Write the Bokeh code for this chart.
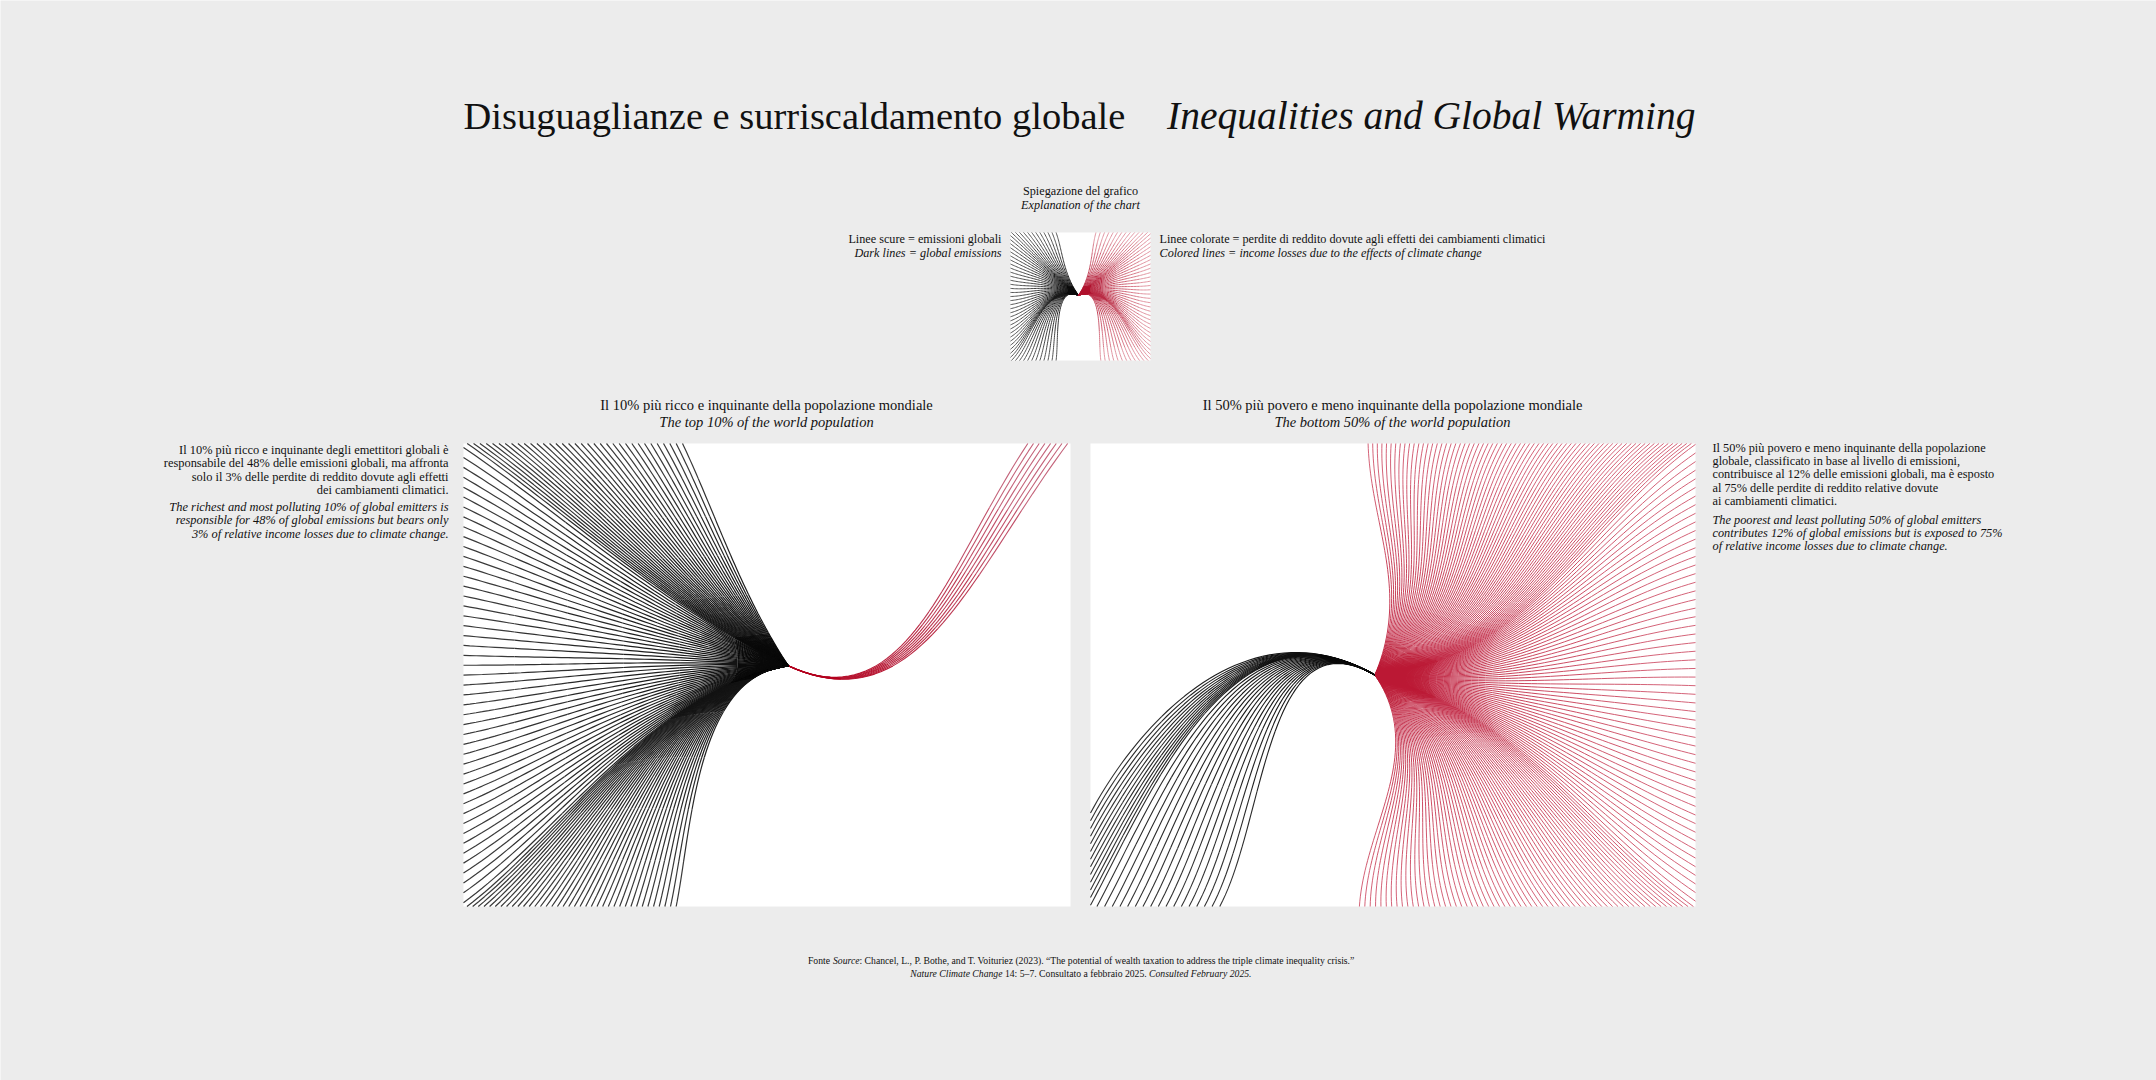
import numpy as np
from bokeh.plotting import figure
from bokeh.models import Range1d, ColumnDataSource, Label
from bokeh.embed import file_html
from bokeh.resources import INLINE

# shares in percent, from the notes beside the panels
groups = ["top 10%", "bottom 50%"]
emissions_share = [48, 12]
losses_share = [3, 75]
lines_per_point = 2.5
explain_lines = [55, 55]   # dark / coloured lines in the key

BG = "#ececec"
INK = "#111111"
SERIF = "Liberation Serif"
PW, PH = 2156, 1080


def Y(y):
    # page y (top-down) -> figure y
    return PH - y


p = figure(width=PW, height=PH, x_range=Range1d(0, PW), y_range=Range1d(0, PH),
           output_backend="svg", toolbar_location=None, tools="", min_border=0)
p.axis.visible = False
p.grid.visible = False
p.outline_line_color = None
p.background_fill_color = BG
p.border_fill_color = BG


def label(x, y, text, size, style="normal", align="left"):
    p.add_layout(Label(x=x, y=Y(y), text=text, text_font=SERIF,
                       text_font_size=f"{size}px", text_font_style=style,
                       text_align=align, text_baseline="alphabetic", text_color=INK))


def unit(v):
    v = np.asarray(v, float)
    return v / np.hypot(v[0], v[1])


def mix(c0, c1, f):
    a = [int(c0[i:i + 2], 16) for i in (1, 3, 5)]
    b = [int(c1[i:i + 2], 16) for i in (1, 3, 5)]
    return "#%02x%02x%02x" % tuple(int(round(a[k] + (b[k] - a[k]) * f)) for k in range(3))


def edge_points(path, n, density=None):
    # n end points along the edges; density > 1 packs an edge tighter
    density = density or {}
    lens = [np.hypot(b[0] - a[0], b[1] - a[1]) * density.get(e, 1) for a, b, e in path]
    total = sum(lens)
    pts = []
    for i in range(n):
        u = (i + 0.5) / n
        s = u * total
        for j, ((a, b, e), L) in enumerate(zip(path, lens)):
            if s <= L or j == len(path) - 1:
                f = min(s / L, 1.0)
                pts.append(((a[0] + (b[0] - a[0]) * f, a[1] + (b[1] - a[1]) * f), u))
                break
            s -= L
    return pts


def fan(center, ends, flow, a1, a2, w1k, w2k, vec, c0, c1, segs=6, steps=48):
    xs, ys, cols = [], [], []
    C = np.array(center, float)
    t = np.linspace(0, 1, steps)[:, None]
    for E, u in ends:
        E = np.array(E, float)
        d = np.hypot(*(E - C))
        r_out = unit(E - C)
        w1 = np.interp(u, *w1k)
        w2 = np.interp(u, *w2k)
        P1 = C + a1 * d * unit((1 - w1) * r_out + w1 * unit(flow))
        P2 = E + a2 * d * unit((1 - w2) * (-r_out) + w2 * unit(vec))
        B = (1 - t) ** 3 * C + 3 * (1 - t) ** 2 * t * P1 + 3 * (1 - t) * t ** 2 * P2 + t ** 3 * E
        idx = np.linspace(0, steps - 1, segs + 1).astype(int)
        for k in range(segs):
            seg = B[idx[k]:idx[k + 1] + 1]
            xs.append(seg[:, 0].tolist())
            ys.append(seg[:, 1].tolist())
            cols.append(mix(c0, c1, k / (segs - 1)))
    return dict(xs=xs, ys=ys, color=cols)


def panel(box, fans):
    x0, t0, x1, b0 = box
    W, H = x1 - x0, b0 - t0
    p.quad(left=x0, right=x1, top=Y(t0), bottom=Y(b0), fill_color="white", line_color=None)
    xy = p.subplot(x_source=Range1d(0, W), y_source=Range1d(0, H),
                   x_target=Range1d(x0, x1), y_target=Range1d(Y(b0), Y(t0)))
    for f, width in fans:
        xy.multi_line(xs="xs", ys="ys", line_color="color", line_width=width,
                      source=ColumnDataSource(f(W, H)))


n_lb = int(round(emissions_share[0] * lines_per_point))
n_lr = int(round(losses_share[0] * lines_per_point))
n_rb = int(round(emissions_share[1] * lines_per_point))
n_rr = int(round(losses_share[1] * lines_per_point))


# ---- left panel: top 10%
def left_black(W, H):
    path = [((0.366 * W, H), (0, H), "top"), ((0, H), (0, 0), "left"), ((0, 0), (0.355 * W, 0), "bottom")]
    dens = {"top": 1.25, "left": 0.8, "bottom": 1.4}
    return fan((0.535 * W, 0.52 * H), edge_points(path, n_lb, dens), (-1, 0.12), 0.35, 0.3,
               ([0, 1], [0.15, 0.8]), ([0, 0.68, 1], [0, 0, 0.55]), (0, 1), "#0a0a0a", "#3a3a3a")


def left_red(W, H):
    path = [((0.925 * W, H), (W, H), "top")]
    return fan((0.535 * W, 0.52 * H), edge_points(path, n_lr), (0.906, -0.423), 0.4, 0.45,
               ([0, 1], [1, 1]), ([0, 1], [0.3, 0.3]), (0, -1), "#b3001e", "#c4637a")


# ---- right panel: bottom 50%
def right_black(W, H):
    path = [((0, 0.21 * H), (0, 0), "left"), ((0, 0), (0.22 * W, 0), "bottom")]
    return fan((0.47 * W, 0.5 * H), edge_points(path, n_rb), (-0.866, 0.5), 0.45, 0.35,
               ([0, 1], [1, 1]), ([0, 1], [1, 1]), (0.47, 0.88), "#0a0a0a", "#333333")


def right_red(W, H):
    path = [((0.455 * W, H), (W, H), "top"), ((W, H), (W, 0), "right"), ((W, 0), (0.44 * W, 0), "bottom")]
    dens = {"top": 1.4, "right": 0.75, "bottom": 1.2}
    return fan((0.47 * W, 0.5 * H), edge_points(path, n_rr, dens), (1, -0.12), 0.4, 0.35,
               ([0, 0.3, 0.5, 0.75, 1], [0.3, 0.65, 0.8, 0.65, 0.45]), ([0, 1], [0, 0]), (1, 0),
               "#bb1834", "#cf5169")


# ---- key
def key_black(W, H):
    path = [((0.34 * W, H), (0, H), "top"), ((0, H), (0, 0), "left"), ((0, 0), (0.34 * W, 0), "bottom")]
    return fan((0.486 * W, 0.51 * H), edge_points(path, explain_lines[0]), (-0.82, 0.57), 0.4, 0.3,
               ([0, 1], [0.45, 0.85]), ([0, 0.79, 1], [0, 0, 0.6]), (0, 1), "#0a0a0a", "#555555")


def key_red(W, H):
    path = [((0.595 * W, H), (W, H), "top"), ((W, H), (W, 0), "right"), ((W, 0), (0.63 * W, 0), "bottom")]
    return fan((0.486 * W, 0.51 * H), edge_points(path, explain_lines[1]), (0.82, 0.57), 0.4, 0.3,
               ([0, 1], [0.45, 0.85]), ([0, 0.78, 1], [0, 0, 0.6]), (0, 1), "#b0102c", "#e296a2")


panel((463, 443, 1070, 906), [(left_red, 1.1), (left_black, 1.2)])
panel((1090, 443, 1695, 906), [(right_red, 0.9), (right_black, 1.1)])
panel((1010, 232, 1150, 360), [(key_black, 1.0), (key_red, 1.0)])

# ---- texts
label(463, 115, "Disuguaglianze e surriscaldamento globale", 38.5)
label(1695, 115, "Inequalities and Global Warming", 39.5, "italic", "right")

label(1080, 190, "Spiegazione del grafico", 12.2, align="center")
label(1080, 204, "Explanation of the chart", 12.2, "italic", "center")
label(1001, 238, "Linee scure = emissioni globali", 12.2, align="right")
label(1001, 252, "Dark lines = global emissions", 12.2, "italic", "right")
label(1159, 238, "Linee colorate = perdite di reddito dovute agli effetti dei cambiamenti climatici", 12.2)
label(1159, 252, "Colored lines = income losses due to the effects of climate change", 12.2, "italic")

label(766, 404.5, "Il 10% più ricco e inquinante della popolazione mondiale", 14.5, align="center")
label(766, 421, "The top 10% of the world population", 14.5, "italic", "center")
label(1392, 404.5, "Il 50% più povero e meno inquinante della popolazione mondiale", 14.5, align="center")
label(1392, 421, "The bottom 50% of the world population", 14.5, "italic", "center")

left_it = ["Il 10% più ricco e inquinante degli emettitori globali è",
           "responsabile del 48% delle emissioni globali, ma affronta",
           "solo il 3% delle perdite di reddito dovute agli effetti",
           "dei cambiamenti climatici."]
left_en = ["The richest and most polluting 10% of global emitters is",
           "responsible for 48% of global emissions but bears only",
           "3% of relative income losses due to climate change."]
for i, s in enumerate(left_it):
    label(448, 449 + 13.6 * i, s, 12.4, align="right")
for i, s in enumerate(left_en):
    label(448, 506 + 13.9 * i, s, 12.4, "italic", "right")

right_it = ["Il 50% più povero e meno inquinante della popolazione",
            "globale, classificato in base al livello di emissioni,",
            "contribuisce al 12% delle emissioni globali, ma è esposto",
            "al 75% delle perdite di reddito relative dovute",
            "ai cambiamenti climatici."]
right_en = ["The poorest and least polluting 50% of global emitters",
            "contributes 12% of global emissions but is exposed to 75%",
            "of relative income losses due to climate change."]
for i, s in enumerate(right_it):
    label(1712, 447 + 13.4 * i, s, 12.3)
for i, s in enumerate(right_en):
    label(1712, 519 + 13.4 * i, s, 12.3, "italic")

# footer, pieces with mixed styles
fs = 9.7
xa = 859
label(xa - 29.5, 960, "Fonte", fs, align="right")
label(xa, 960, "Source", fs, "italic", "right")
label(xa, 960, ": Chancel, L., P. Bothe, and T. Voituriez (2023). \u201cThe potential of wealth taxation "
      "to address the triple climate inequality crisis.\u201d", fs)
xm = 1002
label(xm, 973, "Nature Climate Change", fs, "italic", "right")
label(xm + 2.4, 973, "14: 5\u20137. Consultato a febbraio 2025.", fs)
label(xm + 146.5, 973, "Consulted February 2025.", fs, "italic")

open("out.html", "w").write(file_html(p, INLINE))
